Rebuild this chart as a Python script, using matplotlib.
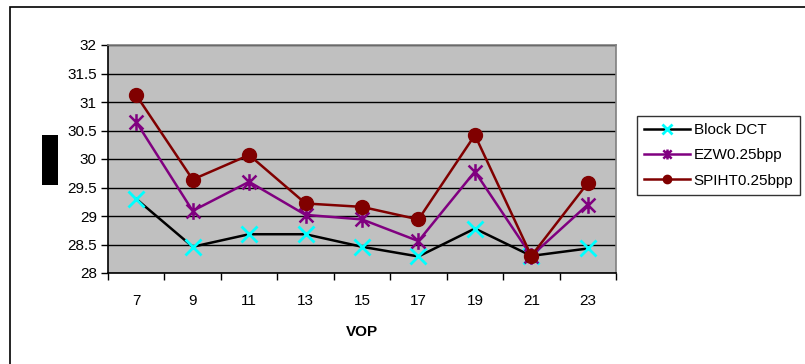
import matplotlib
matplotlib.use("Agg")
import matplotlib.pyplot as plt
from matplotlib.patches import Rectangle
from matplotlib.path import Path
import numpy as np

plt.rcParams['font.family'] = ['Liberation Sans', 'DejaVu Sans']

vop = ["7", "9", "11", "13", "15", "17", "19", "21", "23"]
block_dct = [29.30, 28.46, 28.68, 28.68, 28.46, 28.29, 28.78, 28.30, 28.43]
ezw = [30.65, 29.09, 29.60, 29.02, 28.94, 28.56, 29.78, 28.30, 29.20]
spiht = [31.12, 29.64, 30.07, 29.22, 29.16, 28.94, 30.42, 28.30, 29.58]
y_ticks = [28, 28.5, 29, 29.5, 30, 30.5, 31, 31.5, 32]

# asterisk marker: an X crossed by a vertical stroke
star = Path([(-1, -1), (1, 1), (-1, 1), (1, -1), (0, -1.2), (0, 1.2)],
            [Path.MOVETO, Path.LINETO, Path.MOVETO, Path.LINETO,
             Path.MOVETO, Path.LINETO])

W, H = 805, 364
fig = plt.figure(figsize=(W / 100, H / 100), dpi=100)

# outer chart frame
fig.patches.append(Rectangle((10 / W, -0.1), 1.0, (H - 7) / H + 0.1,
                             transform=fig.transFigure, fill=False,
                             edgecolor='black', linewidth=1.2))
# dark label block at left
fig.patches.append(Rectangle((42 / W, 1 - 185 / H), 16 / W, 50 / H,
                             transform=fig.transFigure, facecolor='black',
                             edgecolor='none'))

left, right, top, bottom = 108, 616, 45, 273
ax = fig.add_axes([left / W, 1 - bottom / H, (right - left) / W, (bottom - top) / H])
ax.set_facecolor('#c0c0c0')

x = np.arange(len(vop))
ax.plot(x, block_dct, color='black', lw=1.8, marker='x', ms=12, mew=2,
        mec='#00ffff', mfc='#00ffff', label='Block DCT', zorder=3)
ax.plot(x, ezw, color='#800080', lw=1.8, marker=star, ms=12, mew=1.8,
        mec='#800080', mfc='none', label='EZW0.25bpp', zorder=4)
ax.plot(x, spiht, color='#800000', lw=1.8, marker='o', ms=10,
        mec='#800000', mfc='#800000', label='SPIHT0.25bpp', zorder=5)

ax.set_xlim(-0.5, len(vop) - 0.5)
ax.set_ylim(28, 32)
ax.set_yticks(y_ticks)
ax.set_yticklabels([f"{v:g}" for v in y_ticks], fontsize=11)
ax.yaxis.grid(True, color='black', lw=1)
ax.set_axisbelow(True)

ax.set_xticks(x)
ax.set_xticklabels(vop, fontsize=11)
ax.set_xticks(np.arange(-0.5, len(vop), 1), minor=True)
ax.tick_params(axis='x', which='major', length=0, pad=15)
ax.tick_params(axis='x', which='minor', length=5, width=1, direction='out')
ax.tick_params(axis='y', length=5, width=1, direction='out', pad=3)

for s in ['top', 'right']:
    ax.spines[s].set_color('#808080')
    ax.spines[s].set_linewidth(1.2)
ax.spines['left'].set_color('black')
ax.spines['bottom'].set_color('black')
ax.spines['left'].set_linewidth(1.2)
ax.spines['bottom'].set_linewidth(1.2)

ax.set_xlabel('VOP', fontsize=11, fontweight='bold', labelpad=12)

leg = fig.legend(loc='upper left', bbox_to_anchor=(637 / W, 1 - 116 / H),
                 fontsize=11, frameon=True, fancybox=False, edgecolor='black',
                 handlelength=3.0, borderpad=0.45, labelspacing=0.75,
                 handletextpad=0.25, borderaxespad=0, markerscale=0.6)
leg.get_frame().set_linewidth(1.0)

fig.savefig('out.png', dpi=100, facecolor='white')
